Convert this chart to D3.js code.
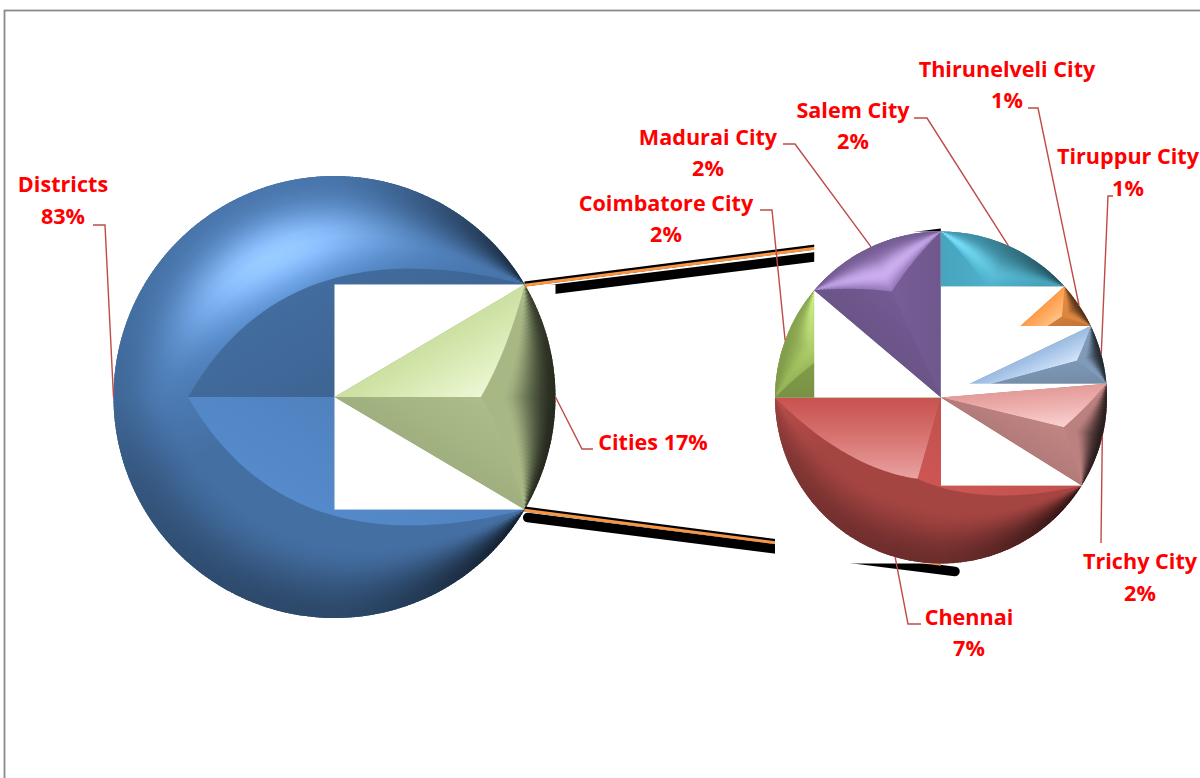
<!DOCTYPE html>
<html>
<head>
<meta charset="utf-8">
<script src="https://cdn.jsdelivr.net/npm/d3@7"></script>
<style>
  html, body { margin: 0; padding: 0; background: #fff; }
  svg { display: block; }
</style>
</head>
<body>
<svg id="chart" width="1200" height="778"></svg>
<script>
// ---- data ----
const districtsValue = 83;
const cityNames = ["Chennai", "Coimbatore City", "Madurai City", "Salem City",
                   "Thirunelveli City", "Tiruppur City", "Trichy City"];
const cityValues = [6.99, 1.90, 2.35, 2.27, 0.78, 0.98, 1.74];
const mainNames = ["Cities", "Districts"];
const mainColors = ["#C3D69B", "#4F81BD"];
const cityColors = ["#C0504D", "#9BBB59", "#8064A2", "#4BACC6", "#F79646", "#95B3D7", "#D99694"];

// ---- layout ----
const W = 1200, H = 778;
const mainC = [334.5, 397], mainR = 221;
const subC = [941, 397.5], subR = 166;

// label anchors (centre x, first baseline) and leader elbows
const labelLayout = {
  "Districts":         { x: 63,   y: 192, gap: 32, elbow: [105, 225], end: [93, 225] },
  "Cities":            { x: 653,  y: 450, gap: 0,  elbow: [582, 449], end: [593, 449], inline: true },
  "Chennai":           { x: 969,  y: 625, gap: 31, elbow: [908, 624], end: [921, 624] },
  "Coimbatore City":   { x: 666,  y: 211, gap: 31, elbow: [772, 210], end: [760, 210] },
  "Madurai City":      { x: 708,  y: 145, gap: 31, elbow: [795, 144], end: [783, 144] },
  "Salem City":        { x: 853,  y: 118, gap: 31, elbow: [927, 118], end: [914, 118] },
  "Thirunelveli City": { x: 1007, y: 77,  gap: 31, elbow: [1038, 108], end: [1028, 108] },
  "Tiruppur City":     { x: 1128, y: 164, gap: 32, elbow: [1108, 196], end: [1113, 196] },
  "Trichy City":       { x: 1140, y: 569, gap: 32, elbow: [1101, 543], end: [1101, 543] }
};

const svg = d3.select("#chart");
const defs = svg.append("defs");
let gid = 0;

// frame
svg.append("rect").attr("x", 4.5).attr("y", 10.5).attr("width", W + 20).attr("height", H + 20)
  .attr("fill", "#fff").attr("stroke", "#8a8a8a").attr("stroke-width", 1.8);

// ---- shading helpers ----
const LS = [-0.3, -0.954];   // light direction for the flat facets
const LA = [-0.4, -0.917];   // light direction for the rounded rim
function mixColor(base, k, w) {
  const c = d3.rgb(base);
  const f = v => { let x = v * k; x = x + (255 - x) * w; return Math.max(0, Math.min(255, x)); };
  return d3.rgb(f(c.r), f(c.g), f(c.b)).formatHex();
}
function smooth(a, b, x) { const t = Math.max(0, Math.min(1, (x - a) / (b - a))); return t * t * (3 - 2 * t); }
function sideColor(base, nx, ny, t) {
  const f = nx * LS[0] + ny * LS[1];
  const k = 0.91 + 0.14 * f + 0.07 * t;
  const w = Math.max(0, (f - 0.75) / 0.25) * 0.55 * Math.pow(t, 1.3);
  return mixColor(base, k, w);
}
function rimColor(base, nx, ny, u) {
  const f = nx * LA[0] + ny * LA[1];
  const k = 0.86 + 0.2 * Math.max(0, f);
  const D = Math.min(0.78, 0.15 + 0.62 * Math.pow(Math.max(0, nx), 1.5) + 0.2 * Math.max(0, ny));
  const rim = 1 - D * Math.pow(smooth(0.3, 1, u), 0.85);
  const bump = Math.exp(-Math.pow((u - 0.4) / 0.3, 2)) * Math.pow(Math.max(0, f), 4);
  return mixColor(base, (k + 0.4 * bump) * rim, 0.28 * bump * rim);
}

// bounding box of a sector, relative to its centre
function sectorBox(R, a0, a1) {
  const pts = [[0, 0], [R * Math.sin(a0), -R * Math.cos(a0)], [R * Math.sin(a1), -R * Math.cos(a1)]];
  for (let k = Math.ceil(a0 / (Math.PI / 2)); k * Math.PI / 2 < a1; k++) {
    const a = k * Math.PI / 2;
    pts.push([R * Math.sin(a), -R * Math.cos(a)]);
  }
  const xs = pts.map(p => p[0]), ys = pts.map(p => p[1]);
  return [d3.min(xs), d3.min(ys), d3.max(xs), d3.max(ys)];
}

// one bevelled slice: white box, rounded rim facet, two flat side facets
function drawSlice(parent, C, R, a0, a1, base) {
  const half = (a1 - a0) / 2, mid = (a0 + a1) / 2;
  const ridgeR = phi => R / (1 + Math.sin(Math.max(0, Math.min(phi - a0, a1 - phi))));
  const pt = (rho, phi) => [rho * Math.sin(phi), -rho * Math.cos(phi)];
  const g = parent.append("g").attr("transform", `translate(${C[0]},${C[1]})`);

  const bb = sectorBox(R, a0, a1);
  g.append("rect").attr("x", bb[0]).attr("y", bb[1])
    .attr("width", bb[2] - bb[0]).attr("height", bb[3] - bb[1]).attr("fill", "#fff");

  const arc = d3.arc();
  g.append("path")
    .attr("d", arc({ innerRadius: 0, outerRadius: R, startAngle: a0, endAngle: a1 }))
    .attr("fill", mixColor(base, 0.8, 0));

  // rim facet in thin angular strips
  const n = Math.max(2, Math.ceil((a1 - a0) / (1.0 * Math.PI / 180)));
  const step = (a1 - a0) / n;
  for (let i = 0; i < n; i++) {
    const s = a0 + i * step, e = s + step, m = (s + e) / 2;
    const rin = Math.max(0, Math.min(ridgeR(s), ridgeR(e)) - 2);
    const rm = ridgeR(m);
    const nx = Math.sin(m), ny = -Math.cos(m);
    const id = "rg" + (gid++);
    const grad = defs.append("radialGradient").attr("id", id)
      .attr("gradientUnits", "userSpaceOnUse").attr("cx", 0).attr("cy", 0).attr("r", R);
    for (let j = 0; j <= 10; j++) {
      const u = j / 10, rho = rm + (R - rm) * u;
      grad.append("stop").attr("offset", rho / R).attr("stop-color", rimColor(base, nx, ny, u));
    }
    g.append("path")
      .attr("d", arc({ innerRadius: rin, outerRadius: R, startAngle: s, endAngle: Math.min(a1, e + 0.008) }))
      .attr("fill", `url(#${id})`);
  }

  // flat side facets
  const apexR = ridgeR(mid);
  const dmax = half >= Math.PI / 2 ? R / 2 : apexR * Math.sin(half);
  [0, 1].forEach(side => {
    const ea = side === 0 ? a0 : a1;
    const pts = [[0, 0], pt(R, ea)];
    const N = 60;
    for (let k = 1; k <= N; k++) {
      const phi = ea + (mid - ea) * k / N;
      pts.push(pt(ridgeR(phi), phi));
    }
    const nh = side === 0 ? [-Math.cos(a0), -Math.sin(a0)] : [Math.cos(a1), Math.sin(a1)];
    const id = "lg" + (gid++);
    const grad = defs.append("linearGradient").attr("id", id)
      .attr("gradientUnits", "userSpaceOnUse")
      .attr("x1", 0).attr("y1", 0).attr("x2", -nh[0] * dmax).attr("y2", -nh[1] * dmax);
    for (let j = 0; j <= 6; j++) {
      const t = j / 6;
      grad.append("stop").attr("offset", t).attr("stop-color", sideColor(base, nh[0], nh[1], t));
    }
    g.append("path").attr("d", d3.line()(pts) + "Z").attr("fill", `url(#${id})`);
  });
  return g;
}

// ---- pies ----
const citiesTotal = d3.sum(cityValues);
const mainValues = [citiesTotal, districtsValue];
const grandTotal = d3.sum(mainValues);
const share = citiesTotal / grandTotal;
const mainStart = Math.PI / 2 - share * Math.PI;
const mainArcs = d3.pie().sort(null).startAngle(mainStart).endAngle(mainStart + 2 * Math.PI)(mainValues);

const subStart = -Math.PI / 2 - 2 * Math.PI * cityValues[0] / citiesTotal;
const subArcs = d3.pie().sort(null).startAngle(subStart).endAngle(subStart + 2 * Math.PI)(cityValues);

const pct = d3.format(".0%");
const polar = (C, r, a) => [C[0] + r * Math.sin(a), C[1] - r * Math.cos(a)];

const layer = svg.append("g");

// districts first
drawSlice(layer, mainC, mainR, mainArcs[1].startAngle, mainArcs[1].endAngle, mainColors[1]);

// connector lines between the "Cities" slice and the secondary pie
const cityArc = mainArcs[0];
const conn = [
  [polar(mainC, mainR, cityArc.startAngle), [subC[0], subC[1] - subR]],
  [polar(mainC, mainR, cityArc.endAngle), [subC[0], subC[1] + subR]]
];
conn.forEach(([p, q]) => {
  layer.append("line").attr("x1", p[0] + 3).attr("y1", p[1] + 8).attr("x2", q[0] + 14).attr("y2", q[1] + 8)
    .attr("stroke", "#000").attr("stroke-width", 9.5).attr("stroke-linecap", "round");
});

drawSlice(layer, mainC, mainR, cityArc.startAngle, cityArc.endAngle, mainColors[0]);

conn.forEach(([p, q]) => {
  layer.append("line").attr("x1", p[0]).attr("y1", p[1] - 0.5).attr("x2", q[0]).attr("y2", q[1] - 0.5)
    .attr("stroke", "#000").attr("stroke-width", 5);
  layer.append("line").attr("x1", p[0]).attr("y1", p[1] + 0.8).attr("x2", q[0]).attr("y2", q[1] + 0.8)
    .attr("stroke", "#F79646").attr("stroke-width", 3);
});

// secondary pie, drawn in data order
subArcs.forEach((a, i) => drawSlice(layer, subC, subR, a.startAngle, a.endAngle, cityColors[i]));

// ---- labels ----
const labels = svg.append("g")
  .attr("font-family", "'Open Sans', 'DejaVu Sans', sans-serif")
  .attr("font-weight", 700).attr("font-size", 21.6).attr("fill", "#FF0000")
  .attr("text-anchor", "middle");

function addLabel(name, C, R, a, value) {
  const L = labelLayout[name];
  const start = polar(C, R, (a.startAngle + a.endAngle) / 2);
  svg.append("polyline")
    .attr("points", [start, L.elbow, L.end].map(p => p.join(",")).join(" "))
    .attr("fill", "none").attr("stroke", "#BE4B48").attr("stroke-width", 1.4);
  const t = labels.append("text").attr("x", L.x).attr("y", L.y);
  if (L.inline) {
    t.text(`${name} ${pct(value)}`);
  } else {
    t.append("tspan").attr("x", L.x).attr("y", L.y).text(name);
    t.append("tspan").attr("x", L.x).attr("y", L.y + L.gap).text(pct(value));
  }
}
addLabel("Districts", mainC, mainR, mainArcs[1], districtsValue / grandTotal);
addLabel("Cities", mainC, mainR, mainArcs[0], citiesTotal / grandTotal);
subArcs.forEach((a, i) => addLabel(cityNames[i], subC, subR, a, cityValues[i] / grandTotal));
labels.raise();
</script>
</body>
</html>
